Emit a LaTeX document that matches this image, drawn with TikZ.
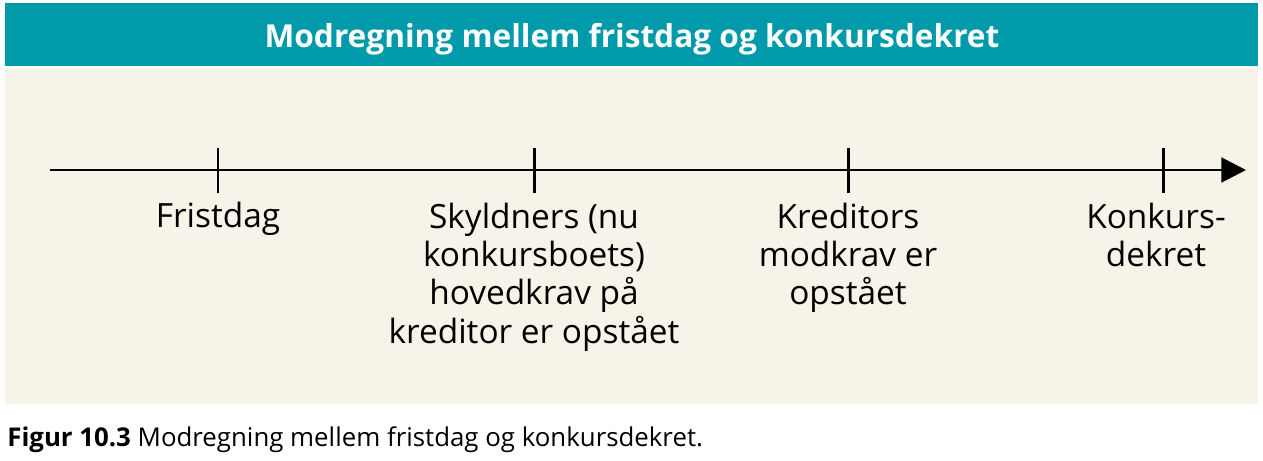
\documentclass[tikz,border=0pt]{standalone}
\usepackage{fontspec}
\setmainfont{Open Sans}
\usetikzlibrary{arrows.meta,positioning}
\definecolor{titleteal}{HTML}{009AAB}
\definecolor{panelbeige}{HTML}{F6F3E8}
\tikzset{
  tick/.style={line width=1.7pt,black},
  ticklabel/.style={anchor=base,align=center,font=\fontsize{19}{21.7}\selectfont,inner sep=0pt},
}
\begin{document}
\begin{tikzpicture}[x=0.02cm,y=-0.02cm,>=Triangle]
\useasboundingbox (0,0) rectangle (1263,460);
\fill[titleteal] (5,3) rectangle (1258,66);
\fill[panelbeige] (5,68) rectangle (1258,404);
\node[font=\bfseries\fontsize{18}{20}\selectfont,text=white,anchor=base] (title) at (632,47) {Modregning mellem fristdag og konkursdekret};
% time axis
\coordinate (axstart) at (50,170);
\coordinate (axend) at (1246,170);
\draw[line width=1.7pt,-{Triangle[length=14pt,width=14pt]}] (axstart)--(axend);
\coordinate (t1) at (218,170);
\coordinate (t2) at (534,170);
\coordinate (t3) at (848,170);
\coordinate (t4) at (1163,170);
\foreach \t in {t1,t2,t3,t4}
  \draw[tick] ([yshift=0.44cm]\t)--([yshift=-0.46cm]\t);
\node[ticklabel] (fristdag) at (218,227) {Fristdag};
\node[ticklabel,anchor=north] (hovedkrav) at (534,203) {Skyldners (nu\\konkursboets)\\hovedkrav på\\kreditor er opstået};
\node[ticklabel,anchor=north] (modkrav) at (848,203) {Kreditors\\modkrav er\\opstået};
\node[ticklabel,anchor=north] (dekret) at (1156,203) {Konkurs-\\dekret};
\node[anchor=base west,inner sep=0pt,font=\fontsize{14.7}{17}\selectfont] (caption) at (7,446) {\textbf{Figur 10.3} Modregning mellem fristdag og konkursdekret.};
\end{tikzpicture}
\end{document}
